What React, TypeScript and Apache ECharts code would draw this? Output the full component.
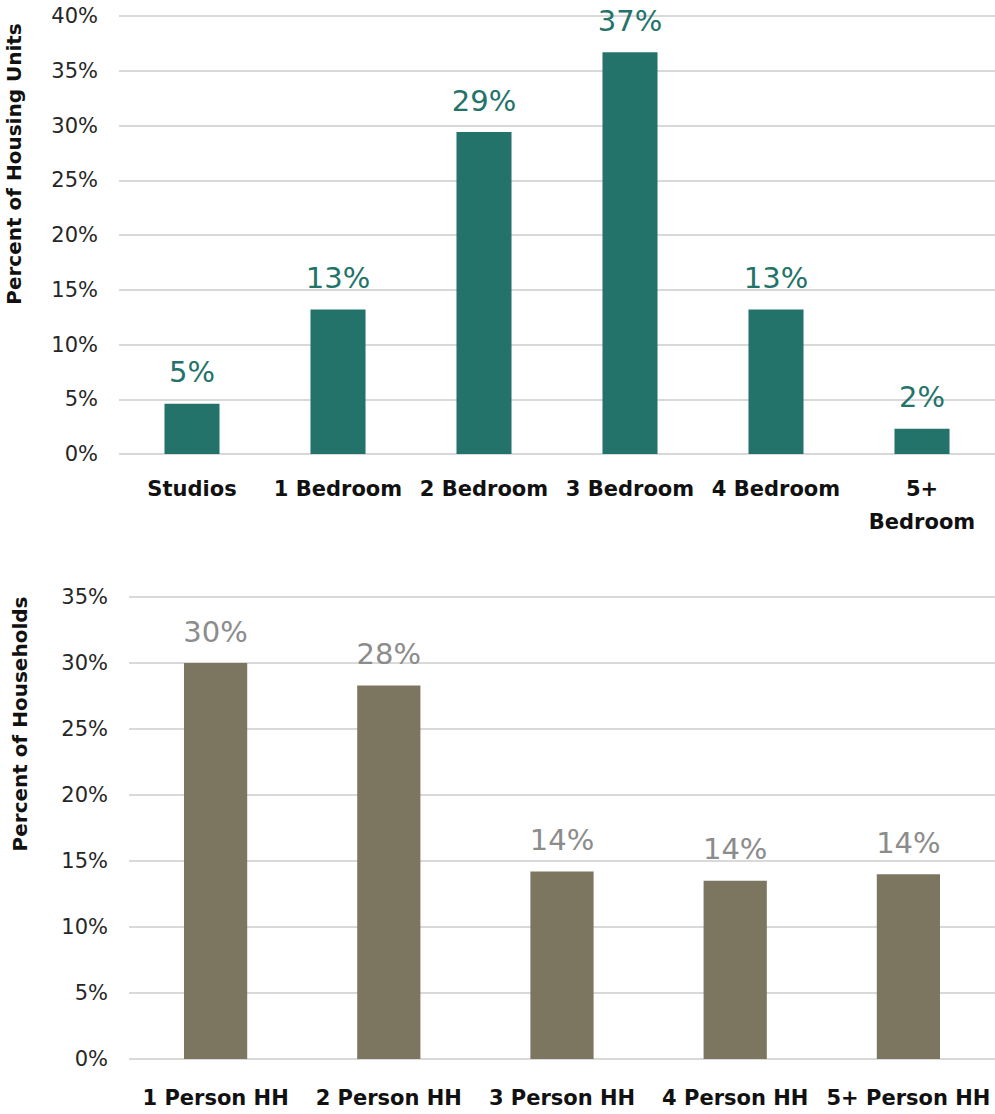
import React, { useEffect, useRef } from "react";
import * as echarts from "echarts";

// Unit-size distribution (percent of housing units)
const unitCategories = ["Studios", "1 Bedroom", "2 Bedroom", "3 Bedroom", "4 Bedroom", "5+ Bedroom"];
const unitShares = [4.6, 13.2, 29.4, 36.7, 13.2, 2.3];
const unitTicks = [0, 5, 10, 15, 20, 25, 30, 35, 40];

// Household-size distribution (percent of households)
const hhCategories = ["1 Person HH", "2 Person HH", "3 Person HH", "4 Person HH", "5+ Person HH"];
const hhShares = [30.0, 28.3, 14.2, 13.5, 14.0];
const hhTicks = [0, 5, 10, 15, 20, 25, 30, 35];

const FONT = "'DejaVu Sans', 'Noto Sans', sans-serif";
const TEAL = "#23736A";
const TAUPE = "#7C7660";
const GRID_LINE = "#D9D9D9";

export default function App() {
  const ref = useRef<HTMLDivElement>(null);

  useEffect(() => {
    if (!ref.current) return;
    const chart = echarts.init(ref.current, undefined, { renderer: "svg" });

    const valueAxis = (gridIndex: number, ticks: number[]) => ({
      type: "value" as const,
      gridIndex,
      min: ticks[0],
      max: ticks[ticks.length - 1],
      interval: ticks[1] - ticks[0],
      axisLine: { show: false },
      axisTick: { show: false },
      axisLabel: {
        formatter: "{value}%",
        margin: 21,
        fontFamily: FONT,
        fontSize: 21,
        color: "#262626",
      },
      splitLine: { show: true, lineStyle: { color: GRID_LINE, width: 2 } },
    });

    const categoryAxis = (gridIndex: number, cats: string[], margin: number) => ({
      type: "category" as const,
      gridIndex,
      data: cats,
      axisLine: { show: false },
      axisTick: { show: false },
      axisLabel: {
        interval: 0,
        margin,
        fontFamily: FONT,
        fontSize: 21,
        fontWeight: "bold" as const,
        color: "#111111",
        lineHeight: 33,
        formatter: (v: string) => v.replace("5+ Bedroom", "5+\nBedroom"),
      },
    });

    const valueLabel = (color: string) => ({
      show: true,
      position: "top" as const,
      distance: 17,
      fontFamily: FONT,
      fontSize: 29,
      color,
      formatter: (p: any) => `${Math.round(p.value)}%`,
    });

    const axisTitle = (text: string, x: number, y: number) => ({
      type: "text" as const,
      x,
      y,
      rotation: Math.PI / 2,
      style: {
        text,
        fontFamily: FONT,
        fontSize: 20,
        fontWeight: "bold",
        fill: "#111111",
        align: "center",
        verticalAlign: "middle",
      },
    });

    chart.setOption({
      animation: false,
      backgroundColor: "#ffffff",
      grid: [
        { left: 119, right: 0, top: 16, height: 438 },
        { left: 129, right: 0, top: 597, height: 467 },
      ],
      xAxis: [categoryAxis(0, unitCategories, 18), categoryAxis(1, hhCategories, 22)],
      yAxis: [valueAxis(0, unitTicks), valueAxis(1, hhTicks)],
      series: [
        {
          type: "bar",
          xAxisIndex: 0,
          yAxisIndex: 0,
          data: unitShares,
          barWidth: "37.7%",
          itemStyle: { color: TEAL },
          label: valueLabel(TEAL),
        },
        {
          type: "bar",
          xAxisIndex: 1,
          yAxisIndex: 1,
          data: hhShares,
          barWidth: "36.5%",
          itemStyle: { color: TAUPE },
          label: valueLabel("#8C8C8C"),
        },
      ],
      graphic: [
        axisTitle("Percent of Housing Units", 14, 164),
        axisTitle("Percent of Households", 20, 724),
      ],
    });

    return () => chart.dispose();
  }, []);

  return (
    <div
      ref={ref}
      style={{ position: "fixed", left: 0, top: 0, width: 995, height: 1114, background: "#fff" }}
    />
  );
}
